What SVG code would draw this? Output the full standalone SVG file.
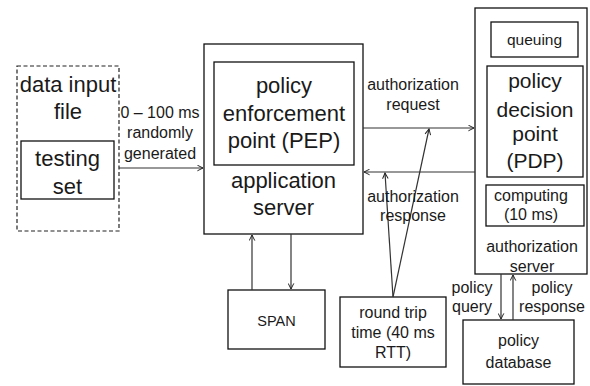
<svg xmlns="http://www.w3.org/2000/svg" width="590" height="386" viewBox="0 0 590 386">
<style>
.box{fill:#fff;stroke:#111;stroke-width:1.3}
.dash{fill:#fff;stroke:#222;stroke-width:1.2;stroke-dasharray:4 2.5}
.ln{fill:none;stroke:#333;stroke-width:1.2}
text{font-family:"Liberation Sans",Arial,sans-serif;fill:#1a1a1a;text-anchor:middle}
.big{font-size:22px}
.mid{font-size:21px}
.sm{font-size:16px}
</style>
<defs>
<marker id="ah" viewBox="0 0 10 10" refX="9" refY="5" markerWidth="7" markerHeight="7" markerUnits="userSpaceOnUse" orient="auto">
<path d="M1,1 L9,5 L1,9" fill="none" stroke="#222" stroke-width="1.4"/>
</marker>
</defs>
<rect width="590" height="386" fill="#fff"/>
<g id="data-input-file">
<rect class="dash" x="17" y="66" width="102" height="165"/>
<text class="big" x="68" y="92">data input</text>
<text class="big" x="68" y="119">file</text>
</g>
<g id="testing-set">
<rect class="box" x="21" y="141" width="93" height="58"/>
<text class="big" x="67.5" y="166">testing</text>
<text class="big" x="67.5" y="194">set</text>
</g>
<g id="application-server">
<rect class="box" x="204" y="44" width="159" height="190"/>
<text class="big" x="283.5" y="188">application</text>
<text class="big" x="283.5" y="215">server</text>
</g>
<g id="pep">
<rect class="box" x="214" y="62" width="140" height="103"/>
<text class="big" x="284" y="93">policy</text>
<text class="big" x="284" y="121">enforcement</text>
<text class="big" x="284" y="148">point (PEP)</text>
</g>
<g id="authorization-server">
<rect class="box" x="475" y="8" width="112" height="266"/>
<text class="sm" x="532" y="252">authorization</text>
<text class="sm" x="532" y="272">server</text>
</g>
<g id="queuing">
<rect class="box" x="491" y="22" width="87" height="35"/>
<text class="sm" x="534.5" y="45" style="font-size:15.5px">queuing</text>
</g>
<g id="pdp">
<rect class="box" x="487" y="66" width="96" height="111"/>
<text class="mid" x="535" y="88">policy</text>
<text class="mid" x="535" y="117">decision</text>
<text class="mid" x="535" y="141">point</text>
<text class="mid" x="535" y="168">(PDP)</text>
</g>
<g id="computing">
<rect class="box" x="486" y="185" width="98" height="41"/>
<text class="sm" x="531" y="201">computing</text>
<text class="sm" x="531" y="220">(10 ms)</text>
</g>
<g id="policy-database">
<rect class="box" x="463" y="320" width="111" height="64"/>
<text class="sm" x="518.5" y="346">policy</text>
<text class="sm" x="518.5" y="368">database</text>
</g>
<g id="span">
<rect class="box" x="228" y="290" width="97" height="59"/>
<text class="sm" x="276.5" y="326" style="font-size:14.5px">SPAN</text>
</g>
<g id="rtt">
<rect class="box" x="340" y="297" width="106" height="70"/>
<text class="sm" x="393" y="318">round trip</text>
<text class="sm" x="393" y="338">time (40 ms</text>
<text class="sm" x="393" y="358">RTT)</text>
</g>
<g id="connectors">
<line class="ln" x1="119" y1="168" x2="203" y2="168" marker-end="url(#ah)"/>
<line class="ln" x1="363" y1="128" x2="474" y2="128" marker-end="url(#ah)"/>
<line class="ln" x1="475" y1="172" x2="364" y2="172" marker-end="url(#ah)"/>
<line class="ln" x1="252" y1="290" x2="252" y2="235" marker-end="url(#ah)"/>
<line class="ln" x1="291" y1="234" x2="291" y2="289" marker-end="url(#ah)"/>
<line class="ln" x1="393" y1="297" x2="385" y2="173" marker-end="url(#ah)"/>
<line class="ln" x1="393" y1="297" x2="429" y2="129" marker-end="url(#ah)"/>
<line class="ln" x1="501" y1="274" x2="501" y2="319" marker-end="url(#ah)"/>
<line class="ln" x1="513" y1="320" x2="513" y2="275" marker-end="url(#ah)"/>
</g>
<g id="labels">
<text class="sm" x="160" y="118">0 – 100 ms</text>
<text class="sm" x="160" y="138">randomly</text>
<text class="sm" x="160" y="159">generated</text>
<text class="sm" x="413" y="90">authorization</text>
<text class="sm" x="413" y="110">request</text>
<text class="sm" x="413" y="202">authorization</text>
<text class="sm" x="413" y="221">response</text>
<text class="sm" x="472" y="293">policy</text>
<text class="sm" x="472" y="312">query</text>
<text class="sm" x="552" y="293">policy</text>
<text class="sm" x="552" y="312">response</text>
</g>
</svg>
